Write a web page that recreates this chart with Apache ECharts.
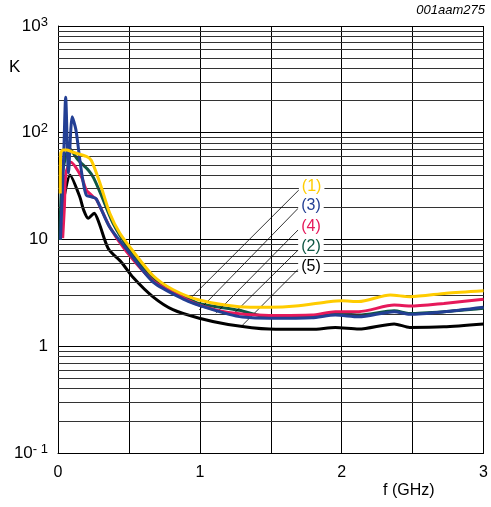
<!DOCTYPE html>
<html>
<head>
<meta charset="utf-8" />
<title>K vs f</title>
<script src="https://cdn.jsdelivr.net/npm/echarts@6/dist/echarts.min.js"></script>
<style>
  html, body { margin: 0; padding: 0; background: #fff; }
  #main { width: 491px; height: 507px; }
</style>
</head>
<body>
<div id="main"></div>
<script type="text/javascript">
// curves: [f (GHz), K]
var curve1 = [[0.016, 27], [0.019, 64], [0.035, 69], [0.061, 69], [0.1, 66], [0.2, 60], [0.235, 55], [0.295, 34],
  [0.365, 17.6], [0.435, 11.5], [0.528, 7.8], [0.669, 4.6], [0.809, 3.4], [0.996, 2.71], [1.277, 2.35],
  [1.488, 2.32], [1.675, 2.38], [1.909, 2.61], [2.002, 2.67], [2.12, 2.62], [2.342, 3.02], [2.482, 2.91],
  [2.737, 3.14], [3.0, 3.31]];
var curve3 = [[0.018, 10], [0.04, 60], [0.054, 215], [0.074, 42], [0.1, 141], [0.126, 107], [0.154, 55.6],
  [0.175, 36], [0.2, 26], [0.24, 25], [0.27, 24], [0.365, 13], [0.5, 7.6], [0.67, 4.0], [0.9, 2.7],
  [1.0, 2.4], [1.2, 2.0], [1.3, 1.88], [1.488, 1.83], [1.79, 1.85], [1.955, 1.96], [2.12, 1.89],
  [2.37, 2.11], [2.48, 1.99], [2.72, 2.1], [3.0, 2.32]];
var curve4 = [[0.033, 10.3], [0.045, 20], [0.056, 42], [0.091, 53], [0.165, 38.7], [0.2, 29], [0.25, 25],
  [0.27, 24], [0.365, 13.1], [0.48, 7.8], [0.67, 4.1], [0.903, 2.75], [0.996, 2.43], [1.2, 2.07],
  [1.488, 1.94], [1.79, 1.96], [1.955, 2.11], [2.12, 2.11], [2.37, 2.43], [2.48, 2.38], [2.72, 2.52],
  [3.0, 2.75]];
var curve2 = [[0.014, 9.9], [0.03, 40], [0.079, 71.6], [0.142, 55.6], [0.213, 44.8], [0.25, 38], [0.3, 27],
  [0.388, 14.2], [0.505, 8.0], [0.67, 4.3], [0.9, 2.85], [1.0, 2.5], [1.277, 2.17], [1.488, 1.87],
  [1.79, 1.89], [1.955, 2.03], [2.12, 1.96], [2.37, 2.15], [2.48, 2.03], [2.72, 2.11], [3.0, 2.27]];
var curve5 = [[0.03, 20], [0.085, 40], [0.154, 25], [0.18, 19], [0.213, 15.8], [0.255, 17.6], [0.29, 14.2],
  [0.355, 8.2], [0.448, 6.1], [0.53, 4.4], [0.67, 2.9], [0.81, 2.2], [0.996, 1.83], [1.2, 1.6],
  [1.488, 1.45], [1.79, 1.44], [1.955, 1.5], [2.12, 1.45], [2.37, 1.62], [2.48, 1.5], [2.72, 1.52],
  [3.0, 1.62]];

var names = ['(1)', '(3)', '(4)', '(2)', '(5)'];
var colors = ['#ffcc00', '#233f94', '#e6195b', '#0f5744', '#000000'];
// leader lines: label end -> curve end
var leaderStart = [[1.698, 29.1], [1.693, 19.6], [1.693, 12.3], [1.693, 7.97], [1.693, 5.26]];
var leaderEnd = [[0.945, 2.91], [0.996, 2.19], [1.114, 2.04], [1.242, 2.04], [1.289, 1.52]];

var minorLines = [0.2, 0.3, 0.4, 0.5, 0.6, 0.7, 0.8, 0.9, 2, 3, 4, 5, 6, 7, 8, 9,
  20, 30, 40, 50, 60, 70, 80, 90, 200, 300, 400, 500, 600, 700, 800, 900];
var xTicks = [0, 1, 2, 3];

var font = 'Liberation Sans, Arial, sans-serif';
var myChart = echarts.init(document.getElementById('main'));

var curves = [curve1, curve3, curve4, curve2, curve5];
var series = [{
  name: 'grid', type: 'line', data: [], z: 1, silent: true,
  markLine: {
    silent: true, symbol: 'none', label: { show: false },
    lineStyle: { color: '#333', width: 1, type: 'solid' },
    data: minorLines.map(function (v) { return { yAxis: v }; })
  }
}];
curves.forEach(function (c, i) {
  series.push({
    name: names[i], type: 'line', data: c, smooth: 0.25, showSymbol: false, z: 3 + (4 - i),
    lineStyle: { color: colors[i], width: 3 },
    itemStyle: { color: colors[i] },
    markLine: {
      silent: true, symbol: 'none', label: { show: false },
      lineStyle: { color: '#000', width: 0.8, type: 'solid' },
      data: [[{ coord: leaderStart[i] }, { coord: leaderEnd[i] }]]
    },
    markPoint: {
      symbol: 'circle', symbolSize: 0,
      label: {
        show: true, position: 'right', distance: 0, offset: [0, -3],
        formatter: names[i], color: colors[i], fontFamily: font, fontSize: 16,
        backgroundColor: '#fff', padding: [1, 3, 0, 3]
      },
      data: [{ coord: leaderStart[i] }]
    }
  });
});

var option = {
  animation: false,
  grid: { left: 58, right: 6, top: 26, bottom: 54 },
  xAxis: {
    type: 'value', min: 0, max: 3, interval: 0.5,
    axisLine: { show: true, lineStyle: { color: '#000', width: 1 } },
    axisTick: { show: false },
    axisLabel: {
      margin: 12, color: '#000', fontFamily: font, fontSize: 16,
      formatter: function (v) { return xTicks.indexOf(v) >= 0 ? String(v) : ''; }
    },
    splitLine: { show: true, lineStyle: { color: '#000', width: 1 } }
  },
  yAxis: {
    type: 'log', logBase: 10, min: 0.1, max: 1000,
    axisLine: { show: true, lineStyle: { color: '#000', width: 1 } },
    axisTick: { show: false },
    axisLabel: {
      margin: 10, color: '#000', fontFamily: font, fontSize: 17,
      formatter: function (v) {
        var e = Math.round(Math.log10(v));
        if (e === 0) return '1';
        if (e === 1) return '10';
        return '10{sup|' + (e < 0 ? '- ' + (-e) : e) + '}';
      },
      rich: {
        sup: { fontSize: 13, fontFamily: font, color: '#000', verticalAlign: 'top', padding: [0, 0, 8, 0] }
      }
    },
    splitLine: { show: true, lineStyle: { color: '#000', width: 1 } }
  },
  graphic: [
    { type: 'text', left: 9, top: 59, style: { text: 'K', font: '17px ' + font, fill: '#000' } },
    { type: 'text', right: 6, top: 4, style: { text: '001aam275', font: 'italic 13px ' + font, fill: '#000' } },
    { type: 'text', left: 383, top: 483, style: { text: 'f (GHz)', font: '16px ' + font, fill: '#000' } }
  ],
  series: series
};
myChart.setOption(option);
</script>
</body>
</html>
